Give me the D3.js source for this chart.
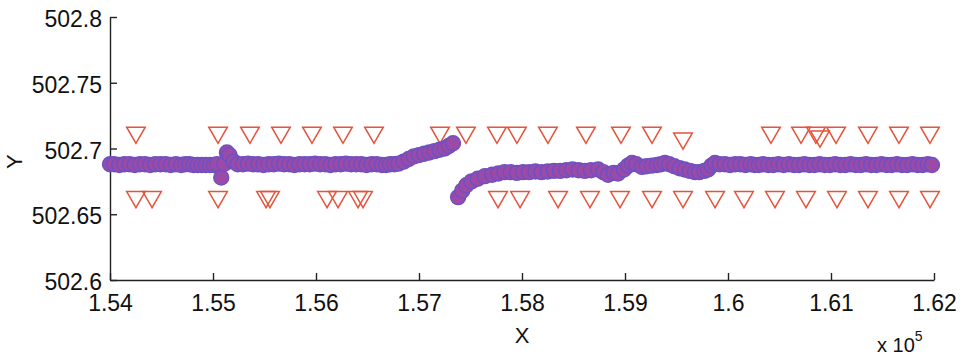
<!DOCTYPE html>
<html>
<head>
<meta charset="utf-8">
<script src="https://cdn.jsdelivr.net/npm/d3@7"></script>
<style>
  body { margin: 0; background: #fff; }
  svg text { font-family: "Liberation Sans", Arial, Helvetica, sans-serif; fill: #111; }
</style>
</head>
<body>
<div id="chart"></div>
<script>
// tick labels
let xTicks = [154000, 155000, 156000, 157000, 158000, 159000, 160000, 161000, 162000];
let xTickLabels = ["1.54", "1.55", "1.56", "1.57", "1.58", "1.59", "1.6", "1.61", "1.62"];
let yTicks = [502.6, 502.65, 502.7, 502.75, 502.8];
let yTickLabels = ["502.6", "502.65", "502.7", "502.75", "502.8"];

// upper triangles
let upX = [154252, 155049, 155359, 155660, 155961, 156262, 156563, 157204, 157456, 157757,
  157951, 158252, 158621, 158961, 159262, 159563, 160417, 160709, 160854, 160893,
  161049, 161359, 161660, 161961];
let upY = [502.711, 502.711, 502.711, 502.711, 502.711, 502.711, 502.711, 502.711, 502.711, 502.711,
  502.711, 502.711, 502.711, 502.711, 502.711, 502.7065, 502.711, 502.711, 502.711, 502.708,
  502.711, 502.711, 502.711, 502.711];

// lower triangles
let lowX = [154252, 154408, 155049, 155515, 155553, 156107, 156214, 156408, 156456, 157767,
  157981, 158350, 158660, 158951, 159262, 159563, 159874, 160155, 160456, 160757,
  161058, 161359, 161660, 161961];
let lowY = [502.662, 502.662, 502.662, 502.662, 502.662, 502.662, 502.662, 502.662, 502.662, 502.662,
  502.662, 502.662, 502.662, 502.662, 502.662, 502.662, 502.662, 502.662, 502.662, 502.662,
  502.662, 502.662, 502.662, 502.662];

// circles
let circleX = [
  154000, 154040, 154090, 154140, 154190, 154240, 154290, 154340, 154390, 154440,
  154490, 154540, 154590, 154640, 154690, 154730, 154770, 154810, 154850, 154890,
  154930, 154970, 155010, 155040, 155080, 155110, 155135, 155160, 155200, 155240,
  155290, 155340, 155390, 155440, 155490, 155540, 155590, 155640, 155690, 155740,
  155790, 155840, 155890, 155940, 155990, 156040, 156090, 156140, 156190, 156240,
  156290, 156340, 156390, 156440, 156490, 156540, 156590, 156640, 156680, 156720,
  156760, 156800, 156850, 156900, 156950, 157000, 157050, 157100, 157150, 157200,
  157250, 157290, 157330,
  157380, 157420, 157460, 157510, 157570, 157640, 157710, 157770, 157830, 157890,
  157950, 158010, 158070, 158130, 158190, 158250, 158310, 158370, 158430, 158490,
  158550, 158610, 158670, 158740, 158790, 158835, 158890, 158932, 158990, 159030,
  159068, 159110, 159165, 159210, 159260, 159310, 159350, 159388, 159430, 159480,
  159530, 159580, 159630, 159680, 159720, 159770, 159806, 159840, 159874,
  159920, 159970, 160020, 160070, 160120, 160170, 160220, 160260, 160300, 160340,
  160390, 160440, 160490, 160540, 160590, 160640, 160690, 160740, 160790, 160840,
  160890, 160940, 160990, 161040, 161090, 161140, 161190, 161240, 161290, 161340,
  161390, 161440, 161490, 161540, 161590, 161640, 161690, 161740, 161790, 161840,
  161890, 161940, 161980
];
let circleY = [
  502.688, 502.688, 502.6875, 502.688, 502.688, 502.6875, 502.688, 502.688, 502.6875, 502.688,
  502.688, 502.688, 502.6875, 502.688, 502.6875, 502.688, 502.688, 502.6875, 502.6875, 502.6875,
  502.6875, 502.6875, 502.6875, 502.688, 502.678, 502.6885, 502.697, 502.695, 502.690, 502.688,
  502.688, 502.6885, 502.688, 502.688, 502.6875, 502.688, 502.688, 502.6885, 502.688, 502.688,
  502.6875, 502.688, 502.688, 502.688, 502.6885, 502.688, 502.688, 502.6875, 502.688, 502.688,
  502.6885, 502.688, 502.688, 502.688, 502.6875, 502.688, 502.688, 502.6875, 502.6875, 502.688,
  502.688, 502.6885, 502.690, 502.692, 502.694, 502.695, 502.696, 502.697, 502.698, 502.699,
  502.700, 502.702, 502.704,
  502.663, 502.668, 502.672, 502.675, 502.677, 502.679, 502.680, 502.681, 502.682, 502.682,
  502.6815, 502.682, 502.682, 502.6825, 502.682, 502.6825, 502.683, 502.683, 502.6835, 502.684,
  502.6835, 502.683, 502.6835, 502.684, 502.682, 502.680, 502.6815, 502.681, 502.684, 502.687,
  502.689, 502.688, 502.686, 502.6865, 502.687, 502.6875, 502.688, 502.689, 502.688, 502.6865,
  502.685, 502.684, 502.683, 502.682, 502.682, 502.683, 502.684, 502.687, 502.689,
  502.688, 502.688, 502.6875, 502.688, 502.688, 502.6875, 502.688, 502.6875, 502.6875, 502.688,
  502.6875, 502.6875, 502.688, 502.6875, 502.688, 502.6875, 502.6875, 502.688, 502.6875, 502.6875,
  502.688, 502.6875, 502.6875, 502.688, 502.6875, 502.6875, 502.688, 502.6875, 502.6875, 502.688,
  502.6875, 502.6875, 502.688, 502.6875, 502.6875, 502.688, 502.6875, 502.6875, 502.688, 502.6875,
  502.6875, 502.688, 502.6875
];

let width = 969, height = 358;
let margin = {top: 17, right: 35, bottom: 78, left: 110};

let xScale = d3.scaleLinear().domain([154000, 162000]).range([margin.left, width - margin.right]);
let yScale = d3.scaleLinear().domain([502.6, 502.8]).range([height - margin.bottom, margin.top]);

let svg = d3.select("#chart").append("svg")
  .attr("width", width)
  .attr("height", height);

// axes, MATLAB style: ticks pointing inwards
let xAxis = d3.axisBottom(xScale)
  .tickValues(xTicks)
  .tickFormat((d, i) => xTickLabels[i])
  .tickSizeInner(-7)
  .tickSizeOuter(0)
  .tickPadding(15);
let yAxis = d3.axisLeft(yScale)
  .tickValues(yTicks)
  .tickFormat((d, i) => yTickLabels[i])
  .tickSizeInner(-7)
  .tickSizeOuter(0)
  .tickPadding(8);

let gx = svg.append("g")
  .attr("transform", "translate(0," + yScale(502.6) + ")")
  .call(xAxis);
let gy = svg.append("g")
  .attr("transform", "translate(" + xScale(154000) + ",0)")
  .call(yAxis);

[gx, gy].forEach(g => {
  g.select(".domain").attr("stroke", "#222").attr("stroke-width", 1.4);
  g.selectAll(".tick line").attr("stroke", "#222").attr("stroke-width", 1.4);
  g.selectAll(".tick text")
    .style("font-family", '"Liberation Sans", Arial, sans-serif')
    .style("font-size", "23px")
    .attr("fill", "#111");
});
gy.selectAll(".tick text").attr("dy", "0.42em");

// axis titles
svg.append("text")
  .attr("x", xScale(158000))
  .attr("y", 343)
  .attr("text-anchor", "middle")
  .style("font-size", "22px")
  .text("X");
svg.append("text")
  .attr("transform", "translate(22," + yScale(502.69) + ") rotate(-90)")
  .attr("text-anchor", "middle")
  .style("font-size", "22px")
  .text("Y");

let mult = svg.append("text")
  .attr("x", 877)
  .attr("y", 352)
  .style("font-size", "20px");
mult.append("tspan").text("x 10");
mult.append("tspan").attr("dy", -11).style("font-size", "14px").text("5");

// triangles (pointing down, hollow)
let tri = d3.symbol().type(d3.symbolTriangle).size(150);
let triangles = upX.map((x, i) => [x, upY[i]]).concat(lowX.map((x, i) => [x, lowY[i]]));
svg.append("g").selectAll("path")
  .data(triangles)
  .join("path")
  .attr("d", tri)
  .attr("transform", d => "translate(" + xScale(d[0]) + "," + (yScale(d[1]) - 1.5) + ") rotate(180)")
  .attr("fill", "none")
  .attr("stroke", "#e5533a")
  .attr("stroke-width", 1.5);

// purple circles
let points = circleX.map((x, i) => [x, circleY[i]]);
svg.append("g").selectAll("circle")
  .data(points)
  .join("circle")
  .attr("cx", d => xScale(d[0]))
  .attr("cy", d => yScale(d[1]))
  .attr("r", 7.5)
  .attr("fill", "#9b4aa8")
  .attr("stroke", "#6a52c4")
  .attr("stroke-width", 1.4);
</script>
</body>
</html>
